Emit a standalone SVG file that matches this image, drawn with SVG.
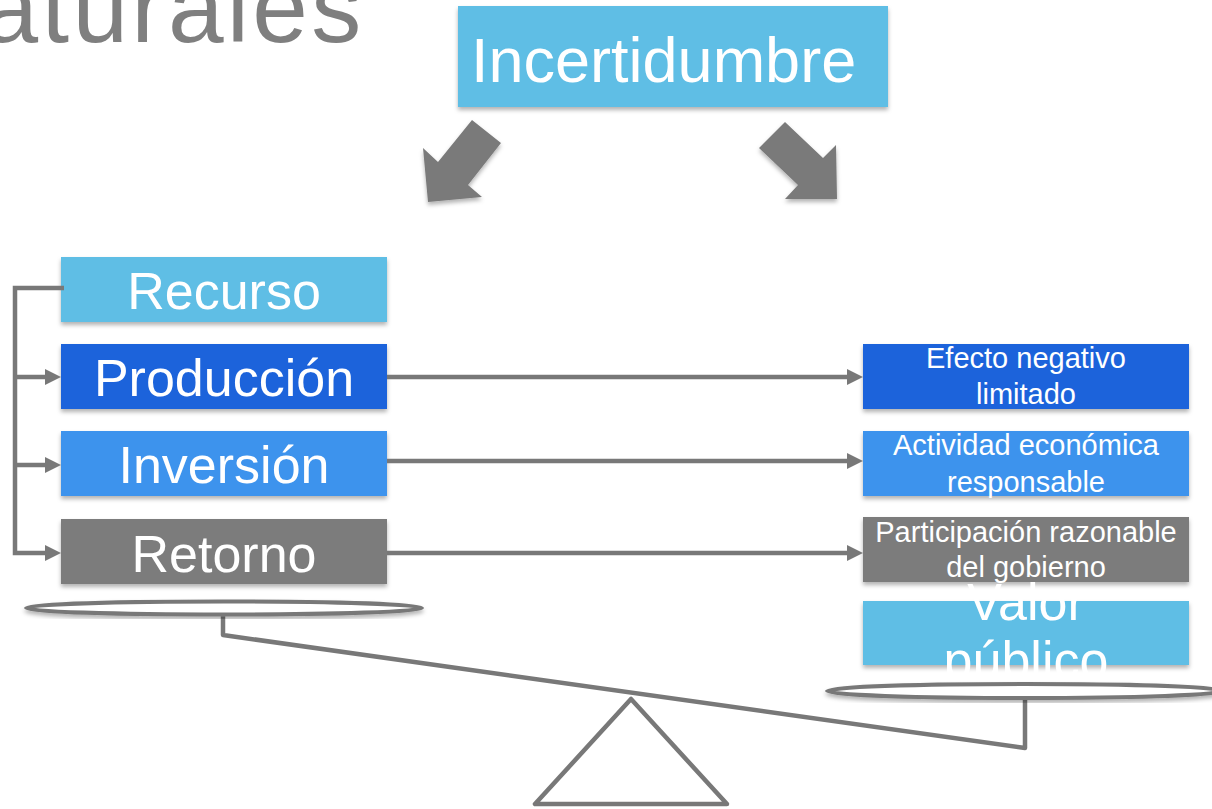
<svg xmlns="http://www.w3.org/2000/svg" width="1212" height="809" viewBox="0 0 1212 809">
<style>
  .lbl { font-family: "Liberation Sans", Arial, sans-serif; fill: #ffffff; }
  .big { font-size: 52px; text-anchor: middle; }
  .small { font-size: 29px; text-anchor: middle; }
  .lightblue { fill: #5FBEE5; }
  .darkblue { fill: #1C64DB; }
  .midblue { fill: #3D93ED; }
  .grey { fill: #7B7B7B; }
  .conn { fill: none; stroke: #787878; stroke-width: 4.5; }
  .bal { fill: none; stroke: #787878; stroke-width: 4.5; stroke-linejoin: round; }
  .pan { fill: #ffffff; stroke: #787878; stroke-width: 4; }
  .bigarrow { fill: #7A7A7A; }
</style>
<defs>
  <filter id="sh" x="-10%" y="-20%" width="120%" height="150%">
    <feDropShadow dx="0" dy="3" stdDeviation="2" flood-color="#000" flood-opacity="0.3"/>
  </filter>
  <marker id="ah" markerUnits="userSpaceOnUse" markerWidth="16" markerHeight="16" refX="6" refY="8" orient="auto">
    <path d="M0,0 L16,8 L0,16 z" fill="#787878"/>
  </marker>
</defs>

<text x="-17.6" y="42" font-family="'Liberation Sans', Arial, sans-serif" font-size="100" letter-spacing="3.3" fill="#7F7F7F">aturales</text>

<g id="incertidumbre">
  <rect x="458" y="6" width="430" height="101" class="lightblue" filter="url(#sh)"/>
  <text x="471" y="82" class="lbl" font-size="63">Incertidumbre</text>
</g>

<g id="big-arrows">
  <polygon class="bigarrow" filter="url(#sh)" points="472,120 501,143 468,185 482,197 428,202 423,148 438,162"/>
  <polygon class="bigarrow" filter="url(#sh)" points="785,122 823,158 836,145 837,199 785,199 798,185 759,148"/>
</g>

<g id="recurso">
  <rect x="61" y="257" width="326" height="65" class="lightblue" filter="url(#sh)"/>
  <text x="224" y="309" class="lbl big">Recurso</text>
</g>
<g id="produccion">
  <rect x="61" y="344" width="326" height="65" class="darkblue" filter="url(#sh)"/>
  <text x="224" y="396" class="lbl big">Producción</text>
</g>
<g id="inversion">
  <rect x="61" y="431" width="326" height="65" class="midblue" filter="url(#sh)"/>
  <text x="224" y="483" class="lbl big">Inversión</text>
</g>
<g id="retorno">
  <rect x="61" y="519" width="326" height="65" class="grey" filter="url(#sh)"/>
  <text x="224" y="572" class="lbl big">Retorno</text>
</g>

<g id="efecto">
  <rect x="863" y="344" width="326" height="65" class="darkblue" filter="url(#sh)"/>
  <text x="1026" y="368" class="lbl small">Efecto negativo</text>
  <text x="1026" y="404" class="lbl small">limitado</text>
</g>
<g id="actividad">
  <rect x="863" y="431" width="326" height="65" class="midblue" filter="url(#sh)"/>
  <text x="1026" y="455" class="lbl small">Actividad económica</text>
  <text x="1026" y="492" class="lbl small">responsable</text>
</g>
<g id="participacion">
  <rect x="863" y="517" width="326" height="65" class="grey" filter="url(#sh)"/>
  <text x="1026" y="542" class="lbl small">Participación razonable</text>
  <text x="1026" y="577" class="lbl small">del gobierno</text>
</g>
<g id="valor">
  <rect x="863" y="601" width="326" height="64" class="lightblue" filter="url(#sh)"/>
  <text x="1026" y="620" class="lbl big">Valor</text>
  <text x="1026" y="678" class="lbl big">público</text>
</g>

<g id="connectors">
  <path class="conn" d="M64,288 H15 V553 H51" marker-end="url(#ah)"/>
  <path class="conn" d="M15,377 H51" marker-end="url(#ah)"/>
  <path class="conn" d="M15,465 H51" marker-end="url(#ah)"/>
  <path class="conn" d="M387,377 H853" marker-end="url(#ah)"/>
  <path class="conn" d="M387,461 H853" marker-end="url(#ah)"/>
  <path class="conn" d="M387,553 H853" marker-end="url(#ah)"/>
</g>

<g id="balance">
  <polyline class="bal" points="223,612 223,635 1025,748 1025,697"/>
  <ellipse class="pan" cx="224" cy="608" rx="198" ry="6.5" filter="url(#sh)"/>
  <ellipse class="pan" cx="1025" cy="691" rx="198" ry="7" filter="url(#sh)"/>
  <polygon class="bal" points="631,699 535,804 727,804"/>
</g>
</svg>
